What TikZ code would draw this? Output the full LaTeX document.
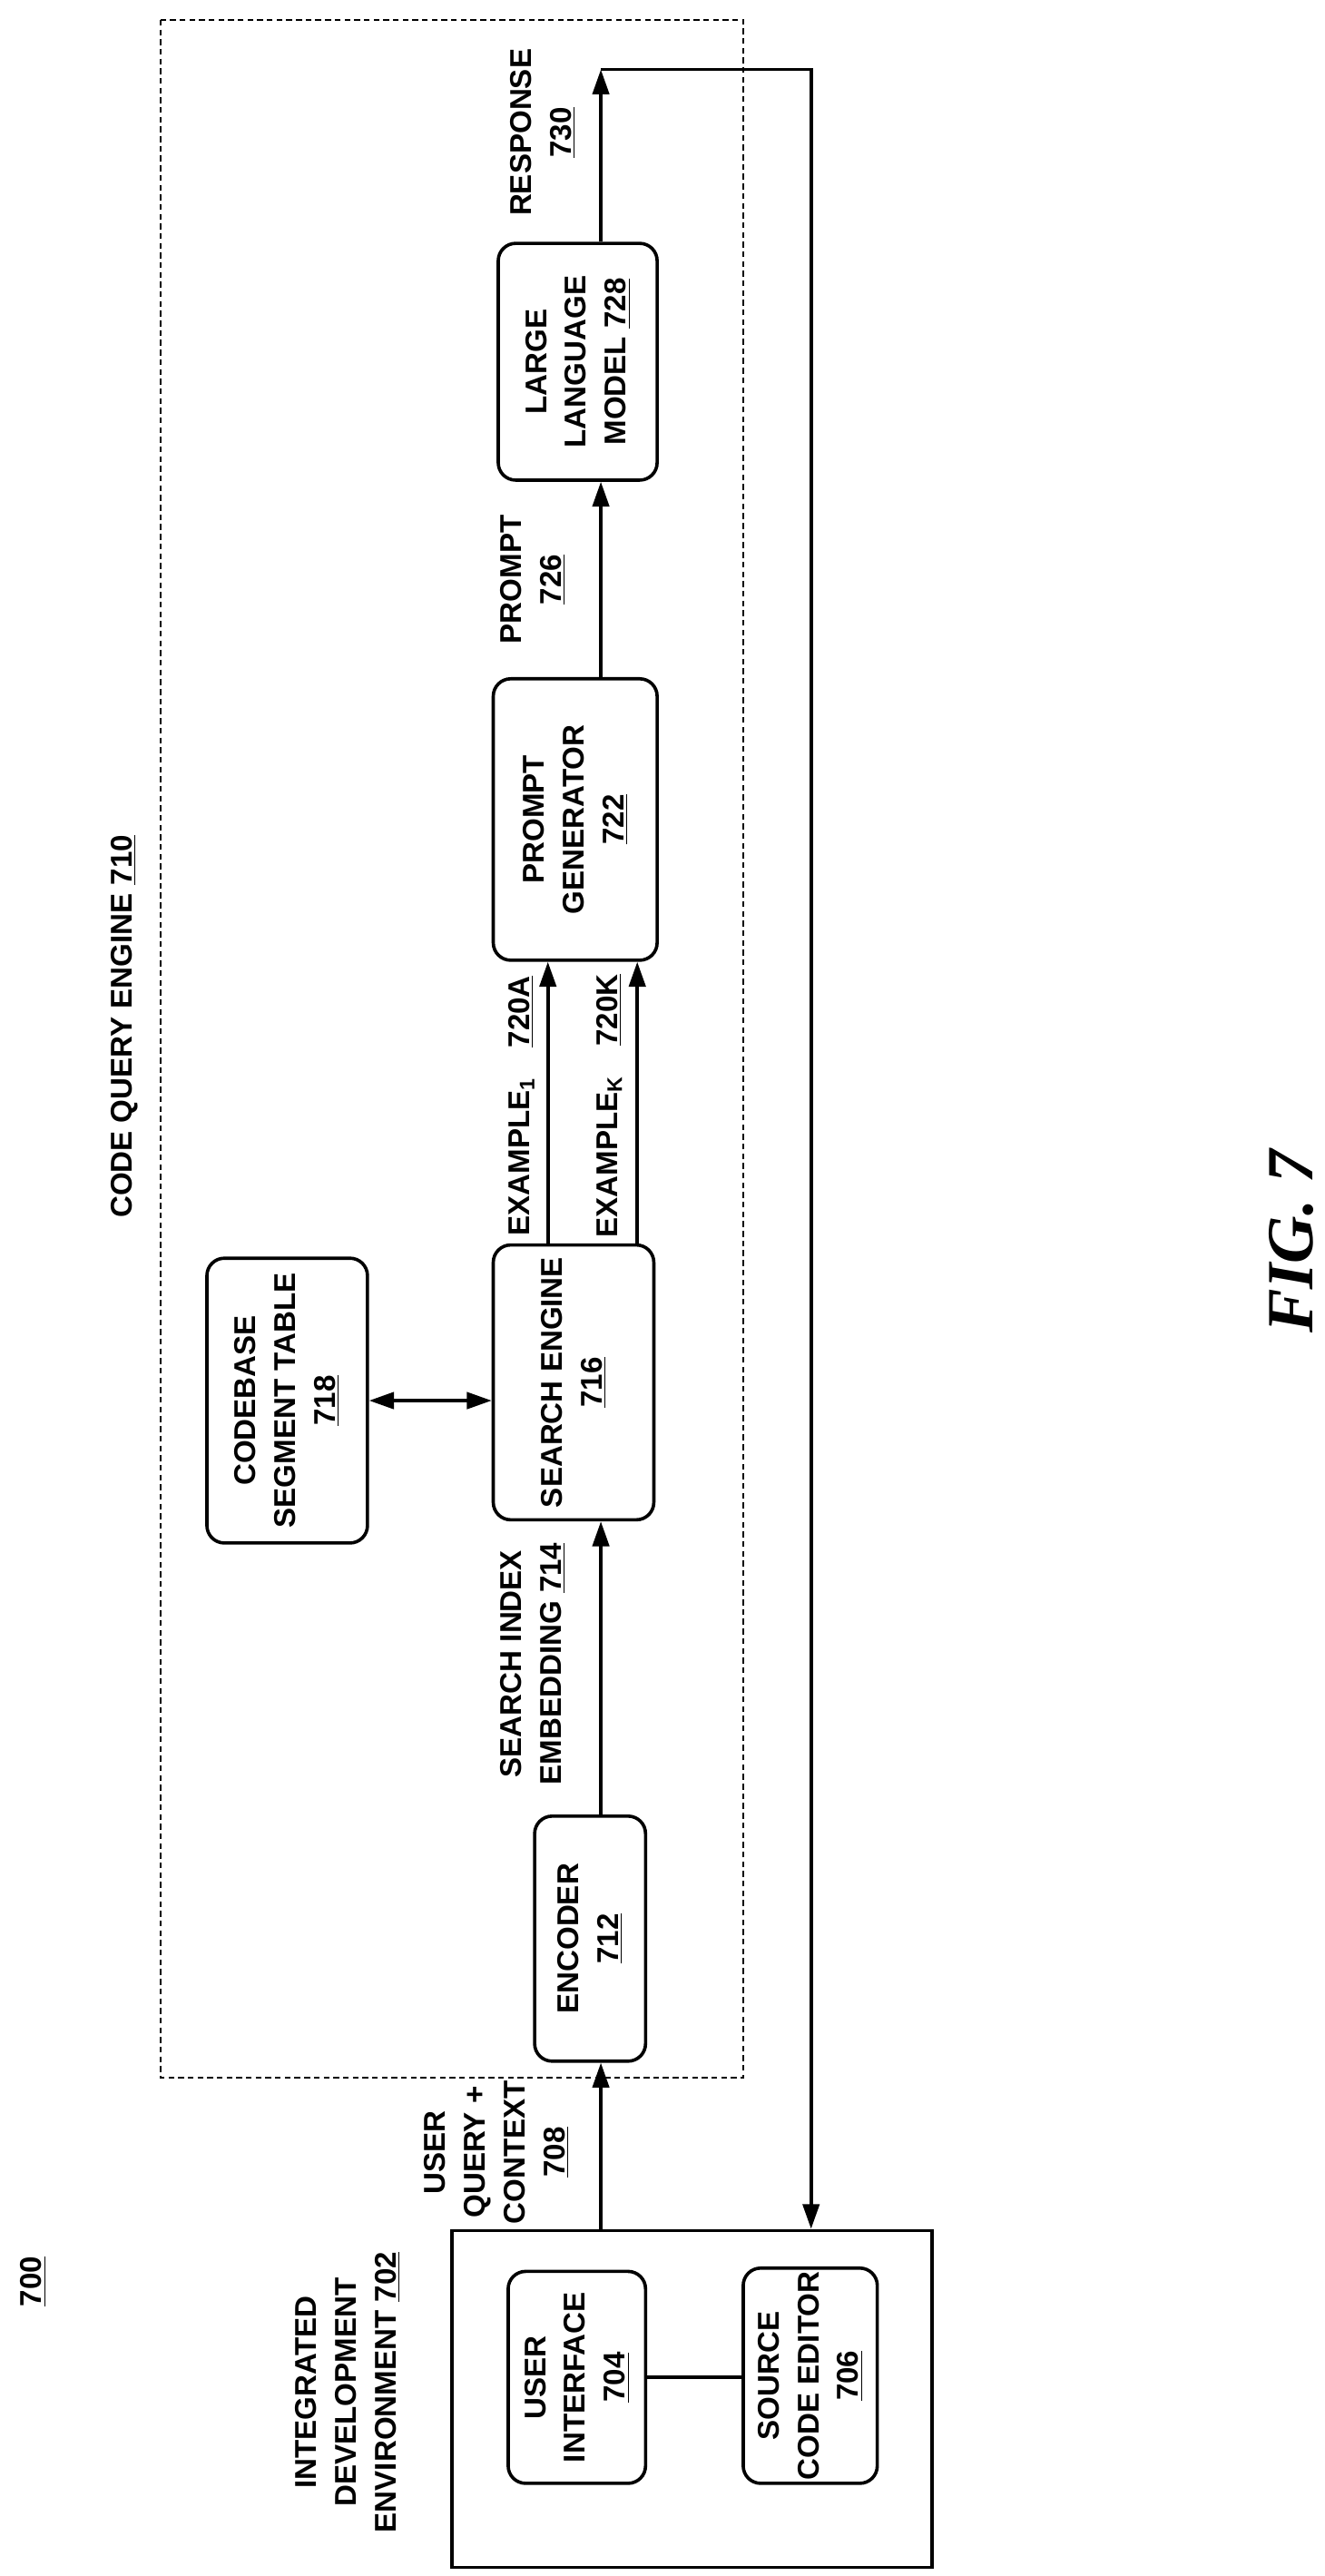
\documentclass[tikz,border=0pt]{standalone}
\usepackage{fontspec}
\setmainfont{Liberation Sans}
\newfontfamily\figfont{Liberation Serif}
\usetikzlibrary{arrows.meta}
\begin{document}
\begin{tikzpicture}[x=0.03cm,y=-0.03cm,
  every node/.style={font=\fontsize{15.5}{20.5}\selectfont\bfseries,align=center,inner sep=0pt},
  box/.style={draw,line width=1.7pt,rounded corners=9pt,rotate=90},
  lbl/.style={rotate=90},
  ln/.style={line width=1.7pt},
  arr/.style={ln,-{Triangle[length=4.5mm,width=3mm]}},
  darr/.style={ln,{Triangle[length=4.5mm,width=3mm]}-{Triangle[length=4.5mm,width=3mm]}}]
\useasboundingbox (0,0) rectangle (800,1556);
\draw[line width=1.2pt,dash pattern=on 3pt off 2pt] (97,12) rectangle (449,1255);
\node[draw,line width=1.7pt,minimum width=8.7cm,minimum height=6.1cm] (ide) at (418,1449) {};
\node[box,minimum width=3.84cm,minimum height=2.49cm] (ui) at (348.5,1436) {USER\\INTERFACE\\\underline{704}};
\node[box,minimum width=3.9cm,minimum height=2.43cm] (sce) at (489.5,1435) {SOURCE\\CODE EDITOR\\\underline{706}};
\node[box,minimum width=4.44cm,minimum height=2.01cm] (enc) at (356.5,1171) {ENCODER\\\underline{712}};
\node[box,minimum width=4.98cm,minimum height=2.91cm] (se) at (346.5,835) {SEARCH ENGINE\\\underline{716}};
\node[box,minimum width=5.16cm,minimum height=2.91cm] (cst) at (173.5,846) {CODEBASE\\SEGMENT TABLE\\\underline{718}};
\node[box,minimum width=5.1cm,minimum height=2.97cm] (pg) at (347.5,495) {PROMPT\\GENERATOR\\\underline{722}};
\node[box,minimum width=4.29cm,minimum height=2.88cm] (llm) at (349,218.5) {LARGE\\LANGUAGE\\MODEL \underline{728}};
\node[lbl] (l700) at (20,1378) {\underline{700}};
\node[lbl] (lide) at (210,1445) {INTEGRATED\\DEVELOPMENT\\ENVIRONMENT \underline{702}};
\node[lbl] (luq) at (300,1300) {USER\\QUERY +\\CONTEXT\\\underline{708}};
\node[lbl] (lsi) at (322,1005) {SEARCH INDEX\\EMBEDDING \underline{714}};
\node[lbl] (lex1) at (315,668) {EXAMPLE\textsubscript{1}\quad\underline{720A}};
\node[lbl] (lexk) at (368,668) {EXAMPLE\textsubscript{K}\quad\underline{720K}};
\node[lbl] (lpr) at (322,350) {PROMPT\\\underline{726}};
\node[lbl] (lre) at (328,80) {RESPONSE\\\underline{730}};
\node[lbl] (lcqe) at (75,620) {CODE QUERY ENGINE \underline{710}};
\node[lbl,font=\figfont\fontsize{34}{40}\selectfont\bfseries\itshape] (fig) at (780,750) {FIG. 7};
\coordinate (xa) at (363,0);
\coordinate (x1) at (331,0);
\coordinate (xk) at (385,0);
\coordinate (top) at (363,42);
\coordinate (rt) at (490,42);
\draw[ln] (ui.south) -- (ui.south -| sce.north);
\draw[arr] (xa |- ide.north) -- (xa |- enc.west);
\draw[arr] (xa |- enc.east) -- (xa |- se.west);
\draw[darr] (cst.south) -- (cst.south -| se.north);
\draw[arr] (x1 |- se.east) -- (x1 |- pg.west);
\draw[arr] (xk |- se.east) -- (xk |- pg.west);
\draw[arr] (xa |- pg.east) -- (xa |- llm.west);
\draw[arr] (xa |- llm.east) -- (top);
\draw[arr] (top) -- (rt) -- (rt |- ide.north);
\end{tikzpicture}
\end{document}
